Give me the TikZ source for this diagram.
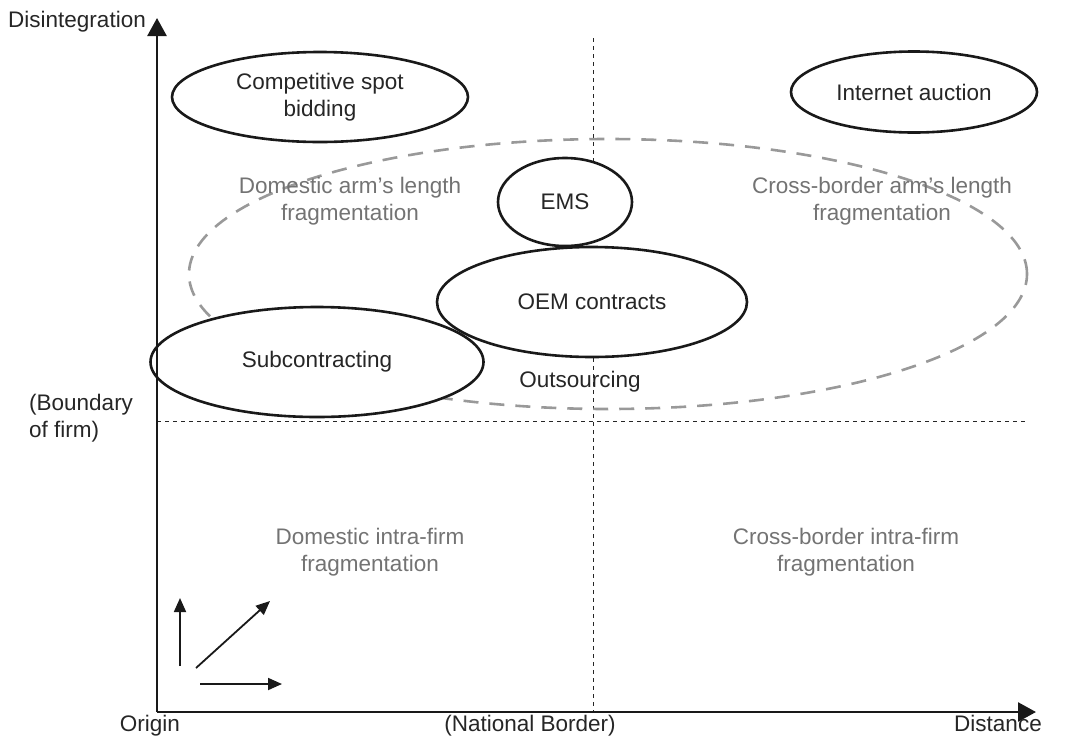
\documentclass[tikz,border=0pt]{standalone}
\usepackage{fontspec}
\setmainfont{Liberation Sans}
\usetikzlibrary{arrows.meta,shapes.geometric}
\begin{document}
\begin{tikzpicture}[x=1pt,y=-1pt,
  lbl/.style={font=\fontsize{22.5}{27}\selectfont, text=black!85, align=center, inner sep=0pt},
  glbl/.style={font=\fontsize{22.5}{27}\selectfont, text=black!55, align=center, inner sep=0pt},
  oval/.style={ellipse, draw=black!90, line width=2.6pt, fill=white, inner sep=0pt},
  axis/.style={line width=2.6pt, draw=black!90, -{Triangle[length=18pt,width=19pt]}},
  small/.style={line width=1.8pt, draw=black!90, -{Triangle[length=14pt,width=12pt]}},
  guide/.style={line width=1pt, draw=black!85, dash pattern=on 4pt off 4pt},
  outs/.style={line width=2.6pt, draw=black!40, dash pattern=on 15pt off 11pt}
]
\useasboundingbox (0,0) rectangle (1073,737);
% guides
\coordinate (vtop) at (593,38);
\coordinate (vbot) at (593,712);
\coordinate (hl) at (157,421);
\coordinate (hr) at (1026,421);
\draw[guide] (vtop) -- (vbot);
\draw[guide] (hl) -- (hr);
% outsourcing dashed ellipse
\node[ellipse, outs, minimum width=838pt, minimum height=270pt] (outs) at (608,274) {};
% ovals
\node[oval, minimum width=296pt, minimum height=90pt] (csb) at (320,97) {};
\node[lbl] at (csb) {Competitive spot\\bidding};
\node[oval, minimum width=246pt, minimum height=81pt] (ia) at (914,92) {};
\node[lbl] at (ia) {Internet auction};
\node[oval, minimum width=134pt, minimum height=88pt] (ems) at (565,202) {};
\node[lbl] at (ems) {EMS};
\node[oval, minimum width=310pt, minimum height=110pt] (oem) at (592,302) {};
\node[lbl] at (oem) {OEM contracts};
\node[oval, minimum width=333pt, minimum height=110pt] (sub) at (317,362) {};
\node[lbl] at (sub) {Subcontracting};
% region labels
\node[glbl] (dal) at (350,201) {Domestic arm’s length\\fragmentation};
\node[glbl] (cal) at (882,201) {Cross-border arm’s length\\fragmentation};
\node[lbl] (os) at (580,382) {Outsourcing};
\node[glbl] (dif) at (370,552) {Domestic intra-firm\\fragmentation};
\node[glbl] (cif) at (846,552) {Cross-border intra-firm\\fragmentation};
% axes
\coordinate (o) at (157,712);
\coordinate (ytop) at (157,18);
\coordinate (xend) at (1036,712);
\draw[axis] (o) -- (ytop);
\draw[axis] (o) -- (xend);
\node[lbl, anchor=east] (dis) at (146,22) {Disintegration};
\node[lbl, anchor=base] (orig) at (150,731) {Origin};
\node[lbl, anchor=base] (nb) at (530,731) {(National Border)};
\node[lbl, anchor=base] (dst) at (998,731) {Distance};
\node[lbl, align=left, anchor=west] (bf) at (29,418) {(Boundary\\of firm)};
% small arrows
\coordinate (a1s) at (180,666);
\coordinate (a1e) at (180,598);
\coordinate (a2s) at (196,668);
\coordinate (a2e) at (270,601);
\coordinate (a3s) at (200,684);
\coordinate (a3e) at (282,684);
\draw[small] (a1s) -- (a1e);
\draw[small] (a2s) -- (a2e);
\draw[small] (a3s) -- (a3e);
\end{tikzpicture}
\end{document}
